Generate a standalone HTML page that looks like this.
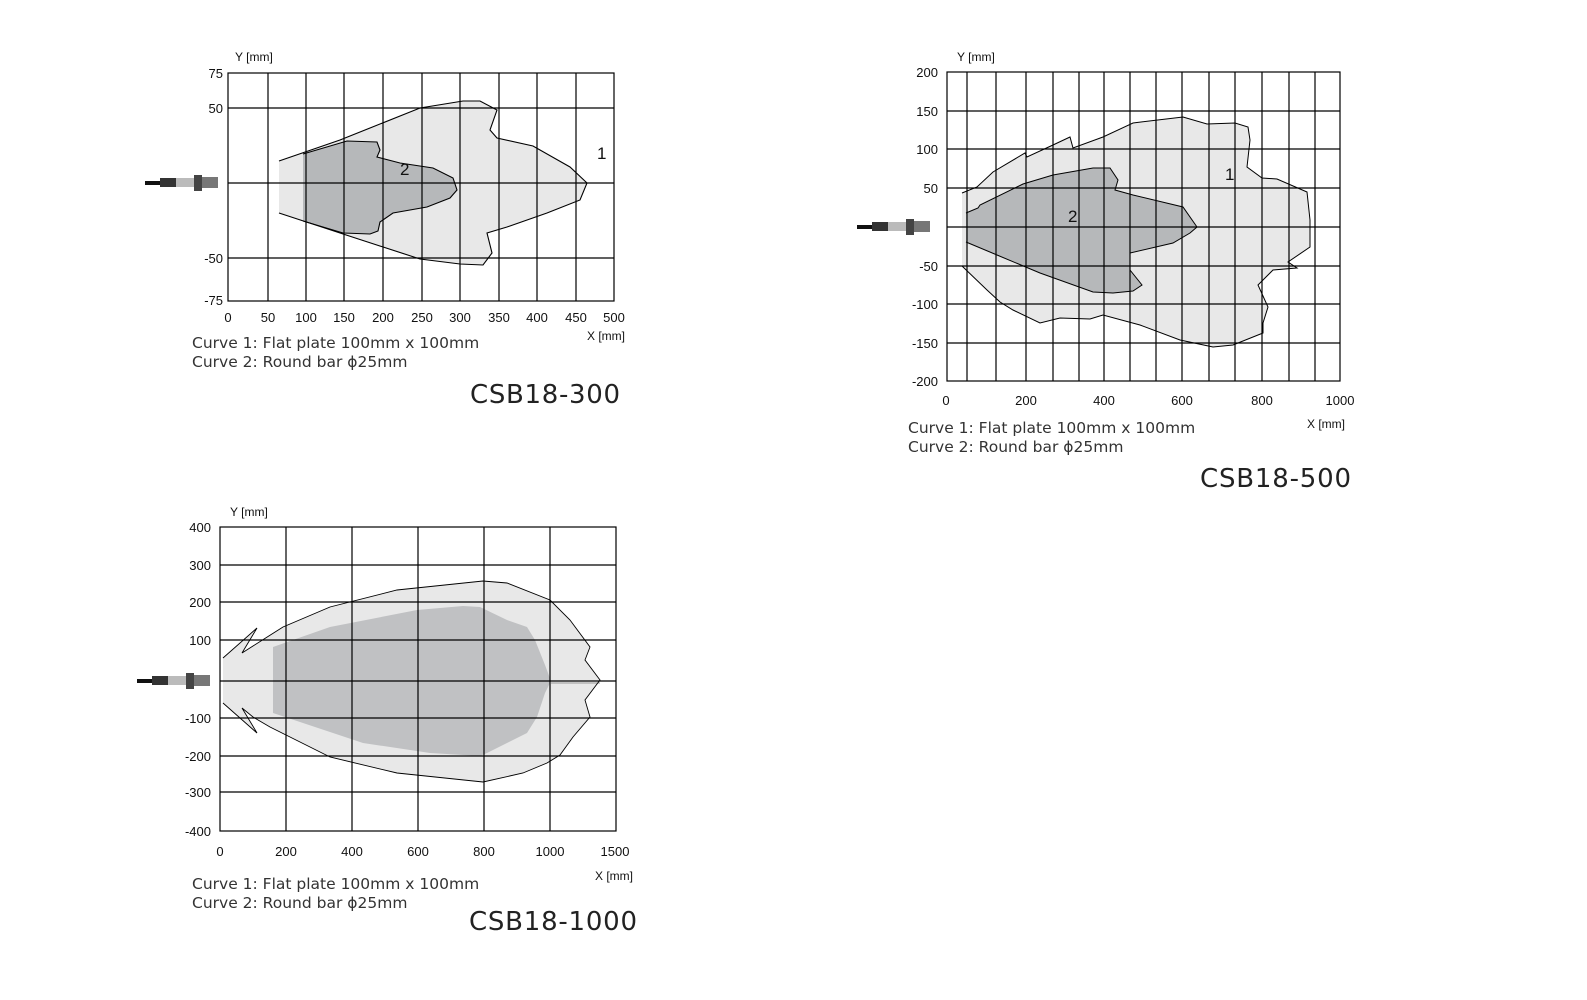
<!DOCTYPE html>
<html><head><meta charset="utf-8"><style>
html,body{margin:0;padding:0;background:#fff;}
svg{display:block;}
.t{font-family:"Liberation Sans",Arial,sans-serif;font-size:13px;fill:#111;}
.c{font-family:"DejaVu Sans","Liberation Sans",sans-serif;font-size:15.5px;fill:#333;}
.big{font-family:"DejaVu Sans","Liberation Sans",sans-serif;font-size:26px;fill:#222;}
.g{stroke:#000;stroke-width:1.2;fill:none;}
</style></head><body>
<svg width="1587" height="1000" viewBox="0 0 1587 1000" xmlns="http://www.w3.org/2000/svg">
<!-- ================= Chart 1 ================= -->
<path d="M279,161 L340,140 L420,108 L463,101 L480,101 L497,110 L490,130 L497,138 L533,146 L570,167 L587,183 L580,200 L547,213 L507,227 L487,233 L492,253 L483,265 L460,264 L420,259 L340,233 L279,213 Z" fill="#e8e8e8"/>
<path d="M303,154 L347,141 L377,142 L380,150 L377,157 L400,163 L433,168 L453,178 L457,190 L450,198 L427,207 L393,213 L380,222 L378,231 L370,234 L343,233 L303,221 Z" fill="#b6b8ba"/>
<g class="g">
<rect x="228" y="73" width="386" height="228"/>
<path d="M268,73V301M306,73V301M344,73V301M383,73V301M422,73V301M460,73V301M499,73V301M537,73V301M576,73V301"/>
<path d="M228,108H614M228,183H614M228,258H614"/>
</g>
<path d="M279,161 L340,140 L420,108 L463,101 L480,101 L497,110 L490,130 L497,138 L533,146 L570,167 L587,183 L580,200 L547,213 L507,227 L487,233 L492,253 L483,265 L460,264 L420,259 L340,233 L279,213" fill="none" stroke="#000" stroke-width="1.1"/>
<path d="M303,154 L347,141 L377,142 L380,150 L377,157 L400,163 L433,168 L453,178 L457,190 L450,198 L427,207 L393,213 L380,222 L378,231 L370,234 L343,233 L303,221" fill="none" stroke="#000" stroke-width="1.1"/>
<text class="t" x="597" y="159" style="font-size:17px">1</text>
<text class="t" x="400" y="175" style="font-size:17px">2</text>
<text class="t" x="235" y="61" style="font-size:12px">Y [mm]</text>
<g class="t" text-anchor="end">
<text x="223" y="78">75</text><text x="223" y="113">50</text><text x="223" y="263">-50</text><text x="223" y="305">-75</text>
</g>
<g class="t" text-anchor="middle">
<text x="228" y="322">0</text><text x="268" y="322">50</text><text x="306" y="322">100</text><text x="344" y="322">150</text><text x="383" y="322">200</text><text x="422" y="322">250</text><text x="460" y="322">300</text><text x="499" y="322">350</text><text x="537" y="322">400</text><text x="576" y="322">450</text><text x="614" y="322">500</text>
</g>
<text class="t" x="587" y="340" style="font-size:12px">X [mm]</text>
<text class="c" x="192" y="348">Curve 1: Flat plate 100mm x 100mm</text>
<text class="c" x="192" y="367">Curve 2: Round bar ϕ25mm</text>
<text class="big" x="470" y="403" textLength="150">CSB18-300</text>
<g><rect x="145" y="181" width="18" height="4" fill="#111"/><rect x="160" y="178" width="16" height="9" fill="#333"/><rect x="176" y="178" width="18" height="9" fill="#bbb"/><rect x="194" y="175" width="8" height="16" fill="#444"/><rect x="202" y="177" width="16" height="11" fill="#777"/></g>

<!-- ================= Chart 2 ================= -->
<path d="M962,193 L977,187 L993,172 L1025,153 L1027,157 L1053,145 L1070,137 L1073,148 L1103,137 L1133,123 L1183,117 L1207,124 L1235,123 L1248,127 L1250,140 L1247,167 L1262,178 L1277,179 L1307,192 L1310,220 L1310,247 L1288,262 L1297,268 L1273,270 L1258,285 L1268,307 L1263,323 L1263,333 L1233,345 L1213,347 L1180,340 L1140,325 L1103,315 L1090,319 L1060,318 L1040,323 L1013,310 L1000,302 L987,290 L962,266 Z" fill="#e8e8e8"/>
<path d="M966,213 L978,208 L980,205 L1023,184 L1053,175 L1093,168 L1110,168 L1118,180 L1115,190 L1133,195 L1183,207 L1197,227 L1190,233 L1173,243 L1130,253 L1130,270 L1142,285 L1133,291 L1113,293 L1093,292 L1040,273 L997,255 L966,242 Z" fill="#b6b8ba"/>
<g class="g">
<rect x="947" y="72" width="393" height="309"/>
<path d="M967,72V381M996,72V381M1026,72V381M1053,72V381M1079,72V381M1104,72V381M1130,72V381M1156,72V381M1182,72V381M1209,72V381M1235,72V381M1262,72V381M1289,72V381M1315,72V381"/>
<path d="M947,111H1340M947,149H1340M947,188H1340M947,227H1340M947,266H1340M947,304H1340M947,343H1340"/>
</g>
<path d="M962,193 L977,187 L993,172 L1025,153 L1027,157 L1053,145 L1070,137 L1073,148 L1103,137 L1133,123 L1183,117 L1207,124 L1235,123 L1248,127 L1250,140 L1247,167 L1262,178 L1277,179 L1307,192 L1310,220 L1310,247 L1288,262 L1297,268 L1273,270 L1258,285 L1268,307 L1263,323 L1263,333 L1233,345 L1213,347 L1180,340 L1140,325 L1103,315 L1090,319 L1060,318 L1040,323 L1013,310 L1000,302 L987,290 L962,266" fill="none" stroke="#000" stroke-width="1"/>
<path d="M966,213 L978,208 L980,205 L1023,184 L1053,175 L1093,168 L1110,168 L1118,180 L1115,190 L1133,195 L1183,207 L1197,227 L1190,233 L1173,243 L1130,253 L1130,270 L1142,285 L1133,291 L1113,293 L1093,292 L1040,273 L997,255 L966,242" fill="none" stroke="#000" stroke-width="1"/>
<text class="t" x="1225" y="180" style="font-size:17px">1</text>
<text class="t" x="1068" y="222" style="font-size:17px">2</text>
<text class="t" x="957" y="61" style="font-size:12px">Y [mm]</text>
<g class="t" text-anchor="end">
<text x="938" y="77">200</text><text x="938" y="116">150</text><text x="938" y="154">100</text><text x="938" y="193">50</text><text x="938" y="271">-50</text><text x="938" y="309">-100</text><text x="938" y="348">-150</text><text x="938" y="386">-200</text>
</g>
<g class="t" text-anchor="middle">
<text x="946" y="405">0</text><text x="1026" y="405">200</text><text x="1104" y="405">400</text><text x="1182" y="405">600</text><text x="1262" y="405">800</text><text x="1340" y="405">1000</text>
</g>
<text class="t" x="1307" y="428" style="font-size:12px">X [mm]</text>
<text class="c" x="908" y="433">Curve 1: Flat plate 100mm x 100mm</text>
<text class="c" x="908" y="452">Curve 2: Round bar ϕ25mm</text>
<text class="big" x="1200" y="487" textLength="151">CSB18-500</text>
<g><rect x="857" y="225" width="18" height="4" fill="#111"/><rect x="872" y="222" width="16" height="9" fill="#333"/><rect x="888" y="222" width="18" height="9" fill="#bbb"/><rect x="906" y="219" width="8" height="16" fill="#444"/><rect x="914" y="221" width="16" height="11" fill="#777"/></g>

<!-- ================= Chart 3 ================= -->
<path d="M223,658 L257,628 L242,653 L253,646 L283,627 L330,607 L397,590 L483,581 L507,583 L550,600 L570,620 L590,647 L585,660 L600,680 L585,700 L590,717 L573,737 L560,755 L547,763 L523,773 L483,782 L397,773 L330,757 L270,727 L253,717 L242,708 L257,733 L223,703 Z" fill="#e8e8e8"/>
<path d="M273,647 L330,627 L417,610 L463,606 L480,607 L507,620 L527,627 L535,640 L545,665 L551,681 L545,693 L537,717 L527,733 L487,753 L480,756 L430,753 L363,743 L273,713 Z" fill="#c0c1c3"/>
<g class="g">
<rect x="220" y="527" width="396" height="304"/>
<path d="M286,527V831M352,527V831M418,527V831M484,527V831M550,527V831"/>
<path d="M220,565H616M220,602H616M220,640H616M220,681H616M220,718H616M220,756H616M220,792H616"/>
</g>
<path d="M551,683 H600" stroke="#999" stroke-width="1"/>
<path d="M223,658 L257,628 L242,653 L253,646 L283,627 L330,607 L397,590 L483,581 L507,583 L550,600 L570,620 L590,647 L585,660 L600,680 L585,700 L590,717 L573,737 L560,755 L547,763 L523,773 L483,782 L397,773 L330,757 L270,727 L253,717 L242,708 L257,733 L223,703" fill="none" stroke="#000" stroke-width="0.9"/>
<text class="t" x="230" y="516" style="font-size:12px">Y [mm]</text>
<g class="t" text-anchor="end">
<text x="211" y="532">400</text><text x="211" y="570">300</text><text x="211" y="607">200</text><text x="211" y="645">100</text><text x="211" y="723">-100</text><text x="211" y="761">-200</text><text x="211" y="797">-300</text><text x="211" y="836">-400</text>
</g>
<g class="t" text-anchor="middle">
<text x="220" y="856">0</text><text x="286" y="856">200</text><text x="352" y="856">400</text><text x="418" y="856">600</text><text x="484" y="856">800</text><text x="550" y="856">1000</text><text x="615" y="856">1500</text>
</g>
<text class="t" x="595" y="880" style="font-size:12px">X [mm]</text>
<text class="c" x="192" y="889">Curve 1: Flat plate 100mm x 100mm</text>
<text class="c" x="192" y="908">Curve 2: Round bar ϕ25mm</text>
<text class="big" x="469" y="930" textLength="168">CSB18-1000</text>
<g><rect x="137" y="679" width="18" height="4" fill="#111"/><rect x="152" y="676" width="16" height="9" fill="#333"/><rect x="168" y="676" width="18" height="9" fill="#bbb"/><rect x="186" y="673" width="8" height="16" fill="#444"/><rect x="194" y="675" width="16" height="11" fill="#777"/></g>
</svg>
</body></html>
